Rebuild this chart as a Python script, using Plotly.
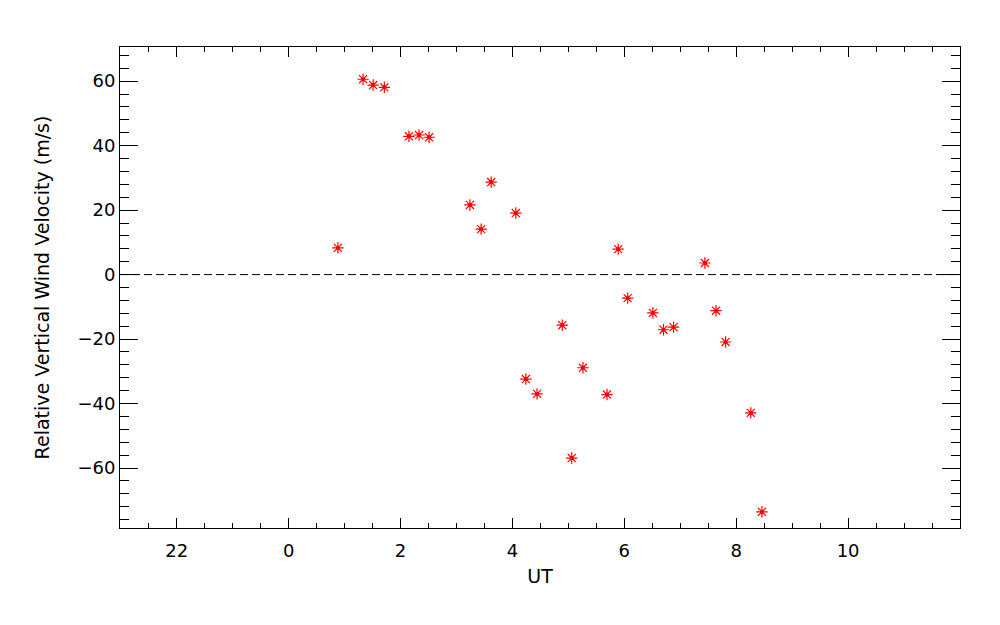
import plotly.graph_objects as go

# Universal time (hours, continuous across midnight; -2 == 22 UT)
ut = [0.88, 1.33, 1.51, 1.71, 2.15, 2.33, 2.51, 3.24, 3.44, 3.62, 4.06, 4.24, 4.44,
      4.89, 5.06, 5.26, 5.69, 5.89, 6.06, 6.51, 6.70, 6.88, 7.44, 7.64, 7.81, 8.26, 8.46]
# Relative vertical wind velocity (m/s)
velocity = [8.3, 60.6, 58.8, 58.1, 42.9, 43.3, 42.6, 21.6, 14.1, 28.7, 19.1, -32.4, -37.0,
            -15.7, -56.9, -28.9, -37.2, 7.9, -7.3, -11.9, -17.1, -16.3, 3.6, -11.2, -20.9,
            -42.9, -73.6]

x_tickvals = [-2, 0, 2, 4, 6, 8, 10]
x_ticktext = ["22", "0", "2", "4", "6", "8", "10"]
x_minor = [v / 2 for v in range(-5, 24) if v % 4 != 0]

font_family = "DejaVu Sans"
black = "#000000"

fig = go.Figure()
fig.add_trace(go.Scatter(
    x=ut, y=velocity, mode="markers",
    marker=dict(symbol="asterisk-open", size=9.5, color="red",
                line=dict(color="red", width=1.2)),
    showlegend=False, hoverinfo="x+y"))
fig.add_trace(go.Scatter(
    x=ut, y=velocity, mode="markers",
    marker=dict(symbol="circle", size=4, color="red", line=dict(width=0)),
    showlegend=False, hoverinfo="skip"))

fig.add_shape(type="line", xref="paper", yref="y", x0=0, x1=1, y0=0, y1=0,
              line=dict(color=black, width=1, dash="8px,4px"))

fig.update_layout(
    width=1000, height=625,
    margin=dict(l=112, r=48, t=39, b=105),
    paper_bgcolor="white", plot_bgcolor="white",
    font=dict(family=font_family, size=16, color=black),
    xaxis=dict(
        range=[-3.015, 12.0], title=dict(text="UT", standoff=10),
        tickmode="array", tickvals=x_tickvals, ticktext=x_ticktext,
        tickfont=dict(size=18), ticklabelstandoff=6,
        ticks="inside", ticklen=10, tickwidth=1, tickcolor=black,
        minor=dict(tickmode="array", tickvals=x_minor, ticks="inside",
                   ticklen=5, tickwidth=1, tickcolor=black),
        showline=True, linecolor=black, linewidth=1, mirror="allticks",
        showgrid=False, zeroline=False),
    yaxis=dict(
        range=[-78.6, 70.6],
        title=dict(text="Relative Vertical Wind Velocity (m/s)", standoff=22),
        tickmode="linear", tick0=0, dtick=20, tickfont=dict(size=18),
        ticks="inside", ticklen=18, tickwidth=1, tickcolor=black,
        minor=dict(tick0=0, dtick=4, ticks="inside", ticklen=9,
                   tickwidth=1, tickcolor=black),
        showline=True, linecolor=black, linewidth=1, mirror="allticks",
        showgrid=False, zeroline=False),
)

fig.write_html("out.html")
